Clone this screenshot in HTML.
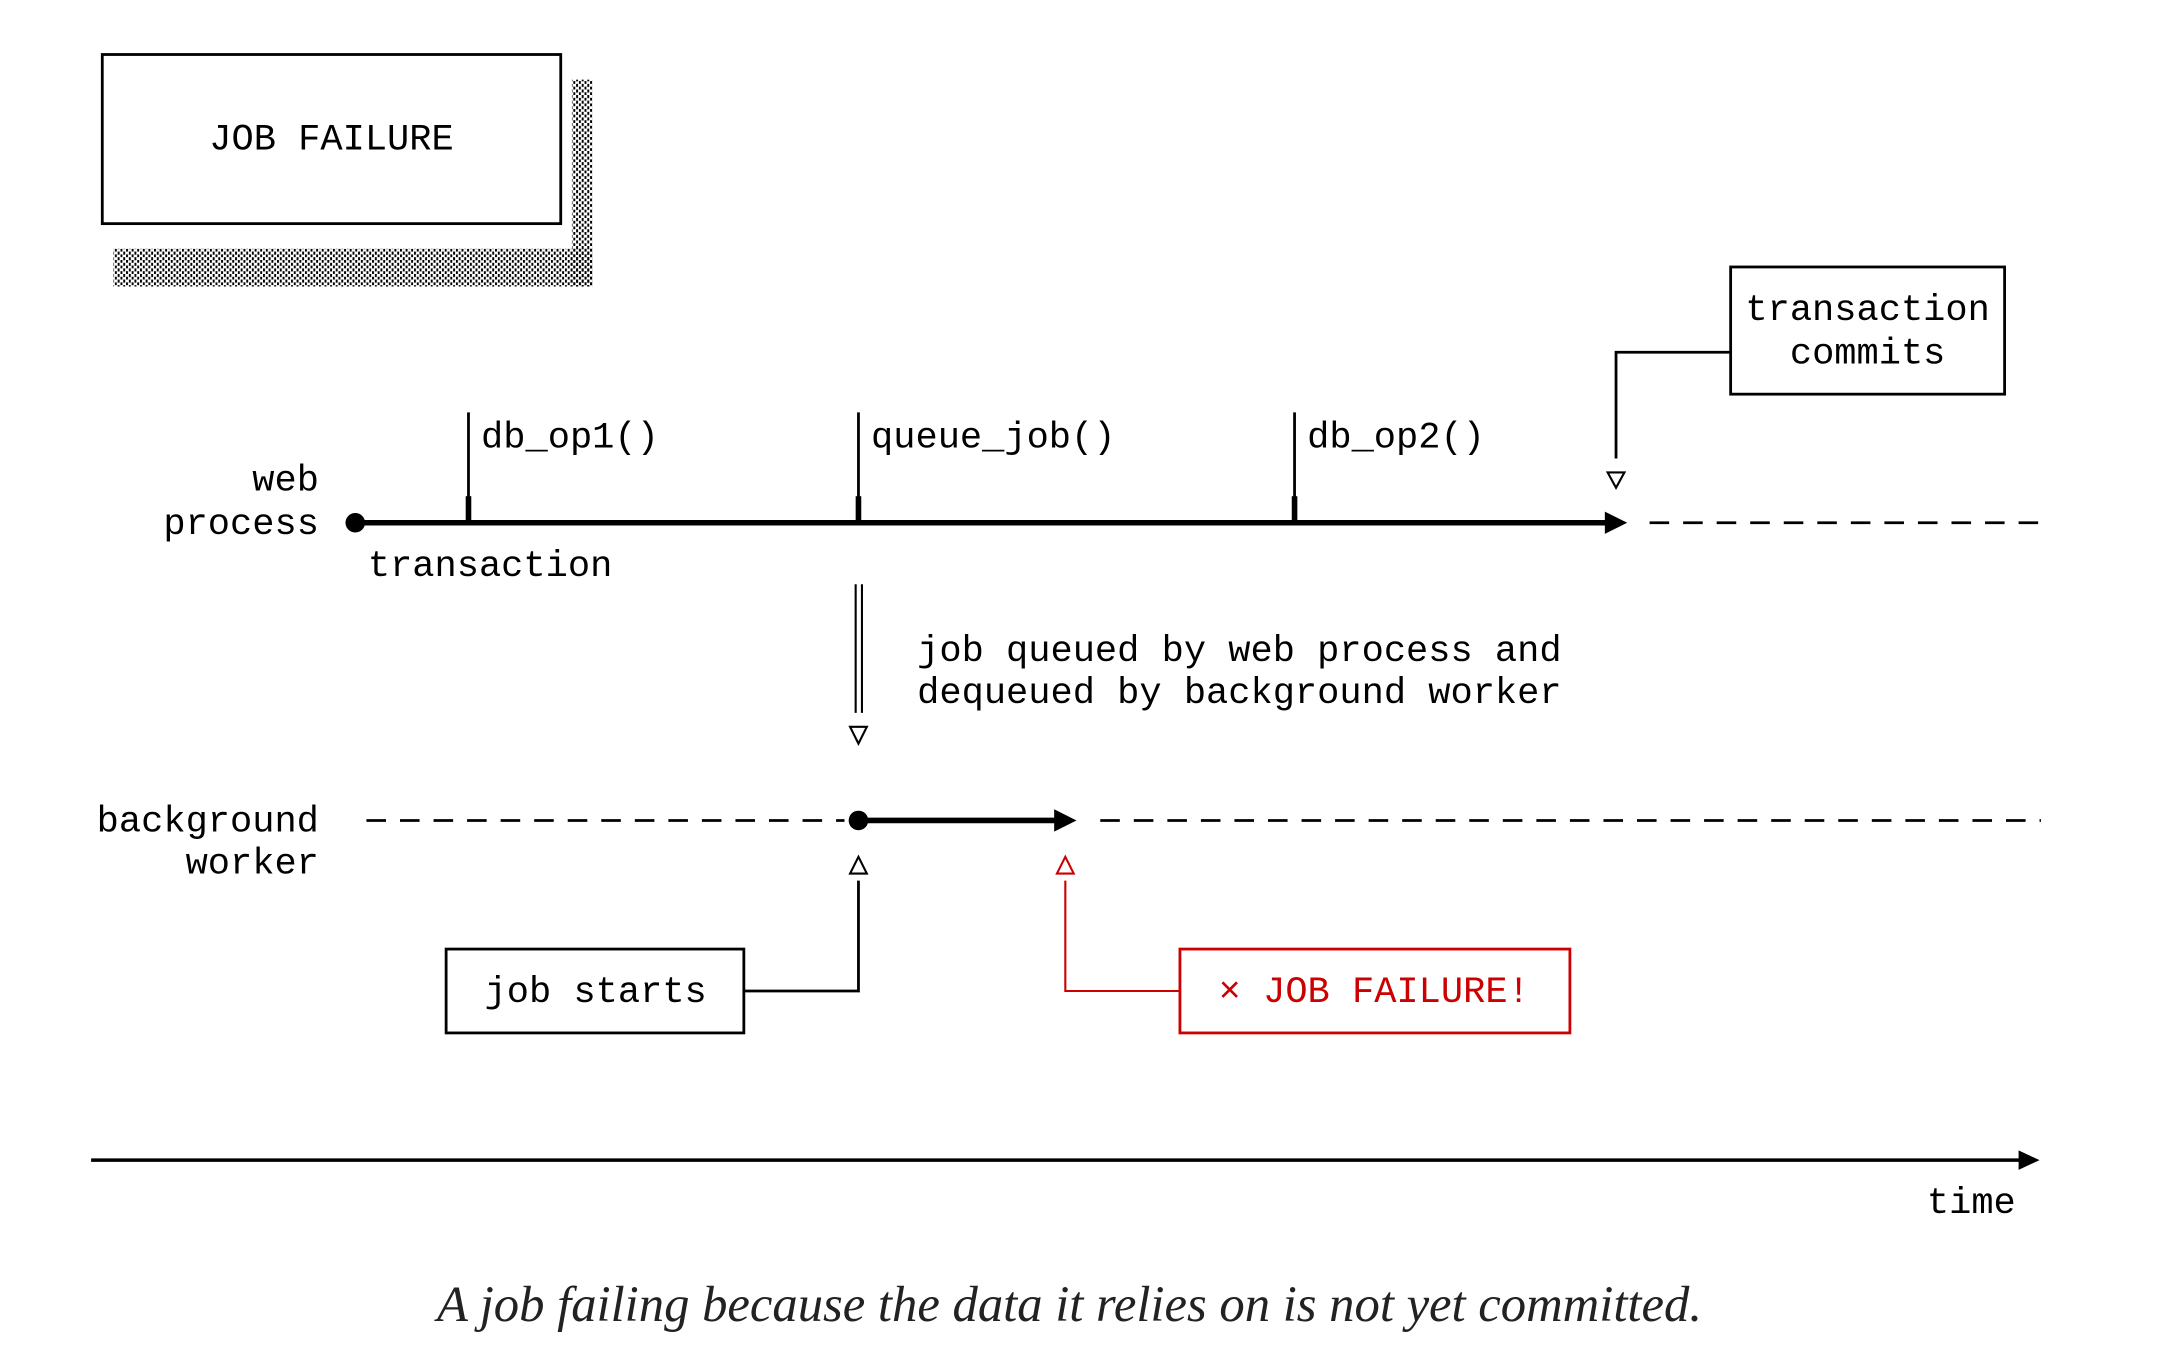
<!DOCTYPE html>
<html><head><meta charset="utf-8"><style>
html,body{margin:0;padding:0;background:#fff;}
svg{display:block;}
text{font-family:"Liberation Mono","DejaVu Sans Mono",monospace;font-size:26.5px;fill:#000;}
</style></head><body>
<svg width="2160" height="1360" viewBox="0 0 1545 973" xmlns="http://www.w3.org/2000/svg">
<defs>
<pattern id="dots" width="4" height="4" patternUnits="userSpaceOnUse">
<rect x="0" y="0" width="1.4" height="2.2" fill="#000"/>
<rect x="2" y="2" width="1.4" height="2.2" fill="#000"/>
</pattern>
</defs>
<rect width="1545" height="973" fill="#fff"/>
<!-- title box -->
<rect x="409" y="57" width="15" height="148" fill="url(#dots)"/>
<rect x="81" y="178" width="343" height="27" fill="url(#dots)"/>
<rect x="73" y="39" width="328" height="121" fill="#fff" stroke="#000" stroke-width="2"/>
<text x="237" y="107" text-anchor="middle">JOB FAILURE</text>

<!-- web process -->
<text x="228" y="351" text-anchor="end">web</text>
<text x="228" y="382" text-anchor="end">process</text>
<circle cx="254" cy="374" r="7" fill="#000"/>
<line x1="254" y1="374" x2="1150" y2="374" stroke="#000" stroke-width="4"/>
<polygon points="1148,366 1164,374 1148,382" fill="#000"/>
<line x1="1180" y1="374" x2="1460" y2="374" stroke="#000" stroke-width="2" stroke-dasharray="14,10"/>
<g stroke="#000">
<line x1="335" y1="295" x2="335" y2="374" stroke-width="2"/><line x1="335" y1="355" x2="335" y2="374" stroke-width="4"/>
<line x1="614" y1="295" x2="614" y2="374" stroke-width="2"/><line x1="614" y1="355" x2="614" y2="374" stroke-width="4"/>
<line x1="926" y1="295" x2="926" y2="374" stroke-width="2"/><line x1="926" y1="355" x2="926" y2="374" stroke-width="4"/>
</g>
<text x="344" y="320">db_op1()</text>
<text x="623" y="320">queue_job()</text>
<text x="935" y="320">db_op2()</text>
<text x="263" y="412">transaction</text>

<!-- transaction commits -->
<rect x="1238" y="191" width="196" height="91" fill="#fff" stroke="#000" stroke-width="2"/>
<text x="1336" y="229" text-anchor="middle">transaction</text>
<text x="1336" y="260" text-anchor="middle">commits</text>
<polyline points="1238,252 1156,252 1156,328" fill="none" stroke="#000" stroke-width="2"/>
<polygon points="1150,338 1162,338 1156,349" fill="none" stroke="#000" stroke-width="1.5"/>

<!-- queue -->
<line x1="612" y1="418" x2="612" y2="510" stroke="#000" stroke-width="1.5"/>
<line x1="616.5" y1="418" x2="616.5" y2="510" stroke="#000" stroke-width="1.5"/>
<polygon points="608,520 620,520 614,532" fill="none" stroke="#000" stroke-width="1.5"/>
<text x="656" y="473">job queued by web process and</text>
<text x="656" y="503">dequeued by background worker</text>

<!-- background worker -->
<text x="228" y="595" text-anchor="end">background</text>
<text x="228" y="625" text-anchor="end">worker</text>
<line x1="262" y1="587" x2="604" y2="587" stroke="#000" stroke-width="2" stroke-dasharray="14,10"/>
<circle cx="614" cy="587" r="7" fill="#000"/>
<line x1="614" y1="587" x2="757" y2="587" stroke="#000" stroke-width="4"/>
<polygon points="754,579 770,587 754,595" fill="#000"/>
<line x1="787" y1="587" x2="1460" y2="587" stroke="#000" stroke-width="2" stroke-dasharray="14,10"/>
<polygon points="608,625 620,625 614,613" fill="none" stroke="#000" stroke-width="1.5"/>
<polygon points="756,625 768,625 762,613" fill="none" stroke="#c00" stroke-width="1.5"/>

<!-- job starts -->
<rect x="319" y="679" width="213" height="60" fill="#fff" stroke="#000" stroke-width="2"/>
<text x="426" y="717" text-anchor="middle">job starts</text>
<polyline points="532,709 614,709 614,630" fill="none" stroke="#000" stroke-width="2"/>

<!-- job failure -->
<polyline points="762,630 762,709 844,709" fill="none" stroke="#c00" stroke-width="1.5"/>
<rect x="844" y="679" width="279" height="60" fill="#fff" stroke="#c00" stroke-width="2"/>
<text x="983" y="717" text-anchor="middle" style="fill:#c00">× JOB FAILURE!</text>

<!-- time axis -->
<line x1="65" y1="830" x2="1446" y2="830" stroke="#000" stroke-width="2.5"/>
<polygon points="1444,823 1459,830 1444,837" fill="#000"/>
<text x="1442" y="868" text-anchor="end">time</text>

<text x="765" y="945" text-anchor="middle" textLength="905" lengthAdjust="spacingAndGlyphs" style="font-family:'Liberation Serif',serif;font-style:italic;font-size:36px;fill:#222">A job failing because the data it relies on is not yet committed.</text>
</svg>
</body></html>
